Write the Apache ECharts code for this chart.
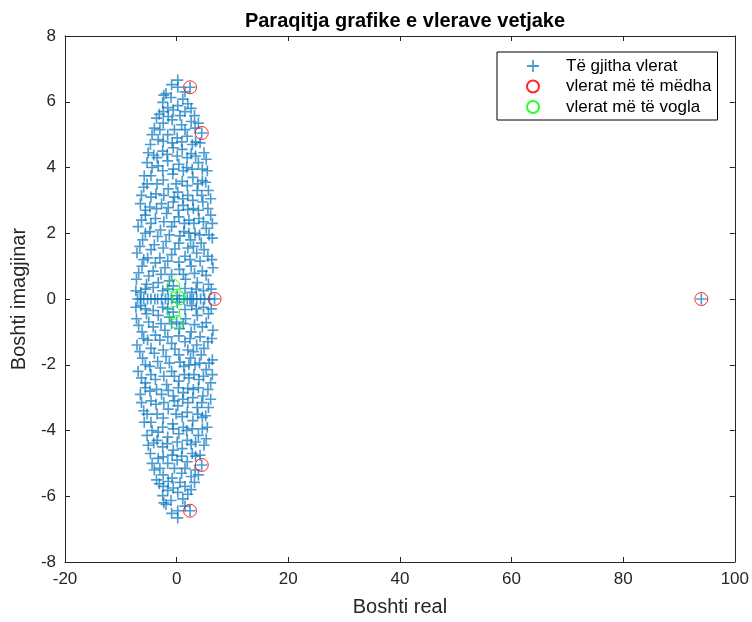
<!DOCTYPE html>
<html>
<head>
<meta charset="utf-8">
<script src="https://cdn.jsdelivr.net/npm/echarts@6/dist/echarts.min.js"></script>
<style>html,body{margin:0;padding:0;background:#fff;}#c{width:752px;height:622px;}</style>
</head>
<body>
<div id="c"></div>
<script>
// Tick values
const xTicks = [-20, 0, 20, 40, 60, 80, 100];
const yTicks = [-8, -6, -4, -2, 0, 2, 4, 6, 8];

// Eigenvalues on the real axis (imag = 0)
const realAxisValues = [-7.0, -6.5, -5.9, -5.2, -4.6, -3.9, -3.4, -2.7, -2.0, -1.5, -0.9, 0.5, 1.3, 1.9, 2.4, 3.0, 3.6, 4.3, 5.0, 5.9, 6.8, 94.0];

// Complex eigenvalues with positive imaginary part [real, imag]; their conjugates are also eigenvalues
const upperHalf = [
  [0.2, 6.66],
  [-1.9, 6.25], [0.2, 6.44], [2.4, 6.44],
  [-1.0, 6.13], [1.1, 6.08], [-2.5, 5.98], [2.0, 5.94],
  [0.2, 5.88], [-1.6, 5.82], [-3.1, 5.62], [1.5, 5.70], [3.2, 5.58],
  [-0.8, 5.45], [-2.4, 5.35], [0.9, 5.30], [2.6, 5.40], [-4.0, 5.20],
  [4.5, 5.05], [-1.6, 5.00], [0.1, 4.90], [1.9, 4.95], [-3.3, 4.85], [3.4, 4.78], [-4.7, 4.70],
  [-0.6, 4.60], [1.0, 4.55], [-2.5, 4.50], [2.6, 4.42], [4.9, 4.45], [-4.1, 4.38],
  [-5.3, 4.15], [-1.6, 4.20], [0.4, 4.10], [3.9, 4.15], [1.8, 4.00], [-3.3, 4.05], [5.5, 3.90],
  [-0.7, 3.80], [-4.6, 3.75], [2.9, 3.70], [-2.4, 3.62], [1.0, 3.58], [4.6, 3.60],
  [-5.9, 3.40], [-1.5, 3.35], [0.2, 3.25], [3.7, 3.30], [-3.7, 3.20], [5.7, 3.30], [2.0, 3.15],
  [-6.5, 2.90], [-0.6, 2.95], [1.2, 2.85], [-2.7, 2.90], [4.7, 2.95], [-4.8, 2.80], [3.0, 2.75],
  [-5.6, 2.55], [-1.8, 2.60], [0.4, 2.50], [6.1, 2.55], [2.2, 2.40], [-3.8, 2.45], [4.0, 2.45],
  [-6.9, 2.20], [-0.9, 2.20], [1.3, 2.05], [5.3, 2.15], [-2.9, 2.10], [3.3, 2.00], [-4.8, 2.05],
  [-6.1, 1.80], [-1.9, 1.75], [0.4, 1.70], [2.5, 1.80], [4.4, 1.70], [6.4, 1.85], [-4.0, 1.65],
  [-7.1, 1.40], [-0.9, 1.35], [1.5, 1.30], [-3.0, 1.25], [3.6, 1.40], [5.6, 1.30], [-5.2, 1.25],
  [-6.2, 1.00], [-2.1, 0.95], [0.5, 0.90], [2.6, 1.00], [4.6, 0.85], [6.5, 0.95], [-4.2, 0.85],
  [-7.2, 0.60], [-1.3, 0.55], [1.6, 0.60], [-3.3, 0.50], [3.7, 0.50], [5.7, 0.45], [-5.4, 0.45], [-0.6, 0.40],
  [-6.4, 0.20], [-2.5, 0.25], [0.1, 0.10], [2.7, 0.20], [4.8, 0.25]
];
const upperHalfDense = [
  [-0.9, 6.52],
  [1.5, 6.30], [-2.3, 6.20],
  [-0.6, 5.75], [2.6, 5.80], [-2.4, 5.70], [-3.6, 5.50],
  [0.6, 5.58], [-1.5, 5.55], [3.9, 5.35],
  [-3.0, 5.15], [1.5, 5.15], [-0.4, 5.15], [3.3, 5.20], [-4.4, 5.00],
  [-2.4, 4.80], [0.9, 4.78], [2.8, 4.70], [-0.8, 4.75], [4.2, 4.75], [-5.1, 4.45],
  [-1.7, 4.40], [0.1, 4.35], [1.9, 4.30], [-3.5, 4.30], [3.4, 4.35], [5.3, 4.25],
  [-4.4, 4.00], [-0.6, 3.95], [1.2, 3.90], [2.8, 3.95], [4.6, 3.95], [-2.5, 3.90], [-5.8, 3.75],
  [-3.5, 3.50], [-0.1, 3.50], [1.9, 3.45], [3.8, 3.50], [-5.3, 3.50], [5.2, 3.55],
  [-4.6, 3.10], [-2.3, 3.15], [-0.4, 3.10], [1.1, 3.05], [2.9, 3.00], [4.5, 3.15], [6.1, 3.05], [-6.3, 3.15],
  [-5.6, 2.70], [-3.6, 2.75], [-1.5, 2.78], [0.3, 2.70], [2.0, 2.72], [3.9, 2.70], [5.6, 2.75],
  [-6.3, 2.40], [-4.6, 2.30], [-2.3, 2.35], [-0.4, 2.35], [1.4, 2.30], [3.1, 2.30], [4.8, 2.35], [6.4, 2.30],
  [-5.6, 2.00], [-3.4, 1.90], [-1.3, 1.95], [0.6, 1.92], [2.2, 2.00], [4.1, 1.95], [5.8, 1.95],
  [-6.6, 1.60], [-4.6, 1.50], [-2.4, 1.55], [-0.3, 1.52], [2.0, 1.55], [4.9, 1.50], [3.0, 1.60],
  [-5.9, 1.20], [-3.8, 1.10], [-1.6, 1.15], [0.4, 1.12], [2.4, 1.20], [4.2, 1.15], [6.3, 1.20],
  [-6.8, 0.80], [-5.0, 0.70], [-2.8, 0.75], [-0.9, 0.75], [1.2, 0.75], [3.2, 0.78], [5.3, 0.72],
  [-5.6, 0.30], [-4.2, 0.35], [-1.6, 0.30], [1.5, 0.32], [3.5, 0.30], [6.2, 0.30], [-7.3, 0.25]
];
// Extra eigenvalue read below the axis
const extraValues = [[0.0, -0.70]];

// Largest-magnitude eigenvalues [real, imag]
const largestValues = [[94.0, 0], [6.8, 0], [2.4, 6.44], [2.4, -6.44], [4.5, 5.05], [4.5, -5.05]];
// Smallest-magnitude eigenvalues [real, imag]
const smallestValues = [[-0.6, 0.40], [0.1, 0.10], [0.5, 0.02], [-0.6, -0.42], [0.0, -0.70]];

const seriesNames = ['Të gjitha vlerat', 'vlerat më të mëdha', 'vlerat më të vogla'];

const upperAll = upperHalf.concat(upperHalfDense);
const allValues = []
  .concat(realAxisValues.map(r => [r, 0]))
  .concat(upperAll)
  .concat(upperAll.map(p => [p[0], -p[1]]))
  .concat(extraValues);

const plusPath = 'path://M4.25,0h1.5v4.25h4.25v1.5h-4.25v4.25h-1.5v-4.25h-4.25v-1.5h4.25z';
const axisColor = '#262626';
const font = 'Liberation Sans, Arial, sans-serif';

const chart = echarts.init(document.getElementById('c'), null, {renderer: 'canvas'});
const baseAxis = {
  axisLine: {show: true, onZero: false, lineStyle: {color: axisColor, width: 1}},
  axisTick: {show: true, inside: true, length: 5, lineStyle: {color: axisColor}},
  splitLine: {show: false}
};
chart.setOption({
  animation: false,
  backgroundColor: '#fff',
  title: {
    text: 'Paraqitja grafike e vlerave vetjake',
    left: 400, top: 6, textAlign: 'center',
    textStyle: {fontFamily: font, fontSize: 20, fontWeight: 'bold', color: '#000'}
  },
  grid: {left: 65, right: 16, top: 36, bottom: 60, containLabel: false},
  legend: {
    data: seriesNames,
    orient: 'vertical',
    left: 497, top: 52,
    padding: [4, 6, 3, 29],
    itemGap: 0.5,
    itemWidth: 12, itemHeight: 12,
    borderColor: '#000', borderWidth: 1, backgroundColor: '#fff',
    textStyle: {fontFamily: font, fontSize: 17, color: '#000', lineHeight: 20, padding: [0, 0, 0, 22]}
  },
  xAxis: [
    Object.assign({}, baseAxis, {
      type: 'value', min: xTicks[0], max: xTicks[xTicks.length - 1], interval: 20, position: 'bottom',
      name: 'Boshti real', nameLocation: 'middle', nameGap: 35,
      nameTextStyle: {fontFamily: font, fontSize: 20, color: axisColor},
      axisLabel: {fontFamily: font, fontSize: 17, color: axisColor, margin: 9}
    }),
    Object.assign({}, baseAxis, {
      type: 'value', min: xTicks[0], max: xTicks[xTicks.length - 1], interval: 20, position: 'top',
      axisLabel: {show: false}
    })
  ],
  yAxis: [
    Object.assign({}, baseAxis, {
      type: 'value', min: yTicks[0], max: yTicks[yTicks.length - 1], interval: 2, position: 'left',
      name: 'Boshti imagjinar', nameLocation: 'middle', nameGap: 30,
      nameTextStyle: {fontFamily: font, fontSize: 20, color: axisColor},
      axisLabel: {fontFamily: font, fontSize: 17, color: axisColor, margin: 9}
    }),
    Object.assign({}, baseAxis, {
      type: 'value', min: yTicks[0], max: yTicks[yTicks.length - 1], interval: 2, position: 'right',
      axisLabel: {show: false}
    })
  ],
  series: [
    {
      name: seriesNames[0], type: 'scatter', data: allValues,
      symbol: plusPath, symbolSize: 11,
      itemStyle: {color: '#0072BD', opacity: 0.7}
    },
    {
      name: seriesNames[1], type: 'scatter', data: largestValues,
      symbol: 'circle', symbolSize: 13,
      itemStyle: {color: 'rgba(0,0,0,0)', borderColor: '#FF0000', borderWidth: 1, opacity: 0.85}
    },
    {
      name: seriesNames[2], type: 'scatter', data: smallestValues,
      symbol: 'circle', symbolSize: 13,
      itemStyle: {color: 'rgba(0,0,0,0)', borderColor: '#00FF00', borderWidth: 1, opacity: 0.85}
    }
  ]
});
</script>
</body>
</html>
